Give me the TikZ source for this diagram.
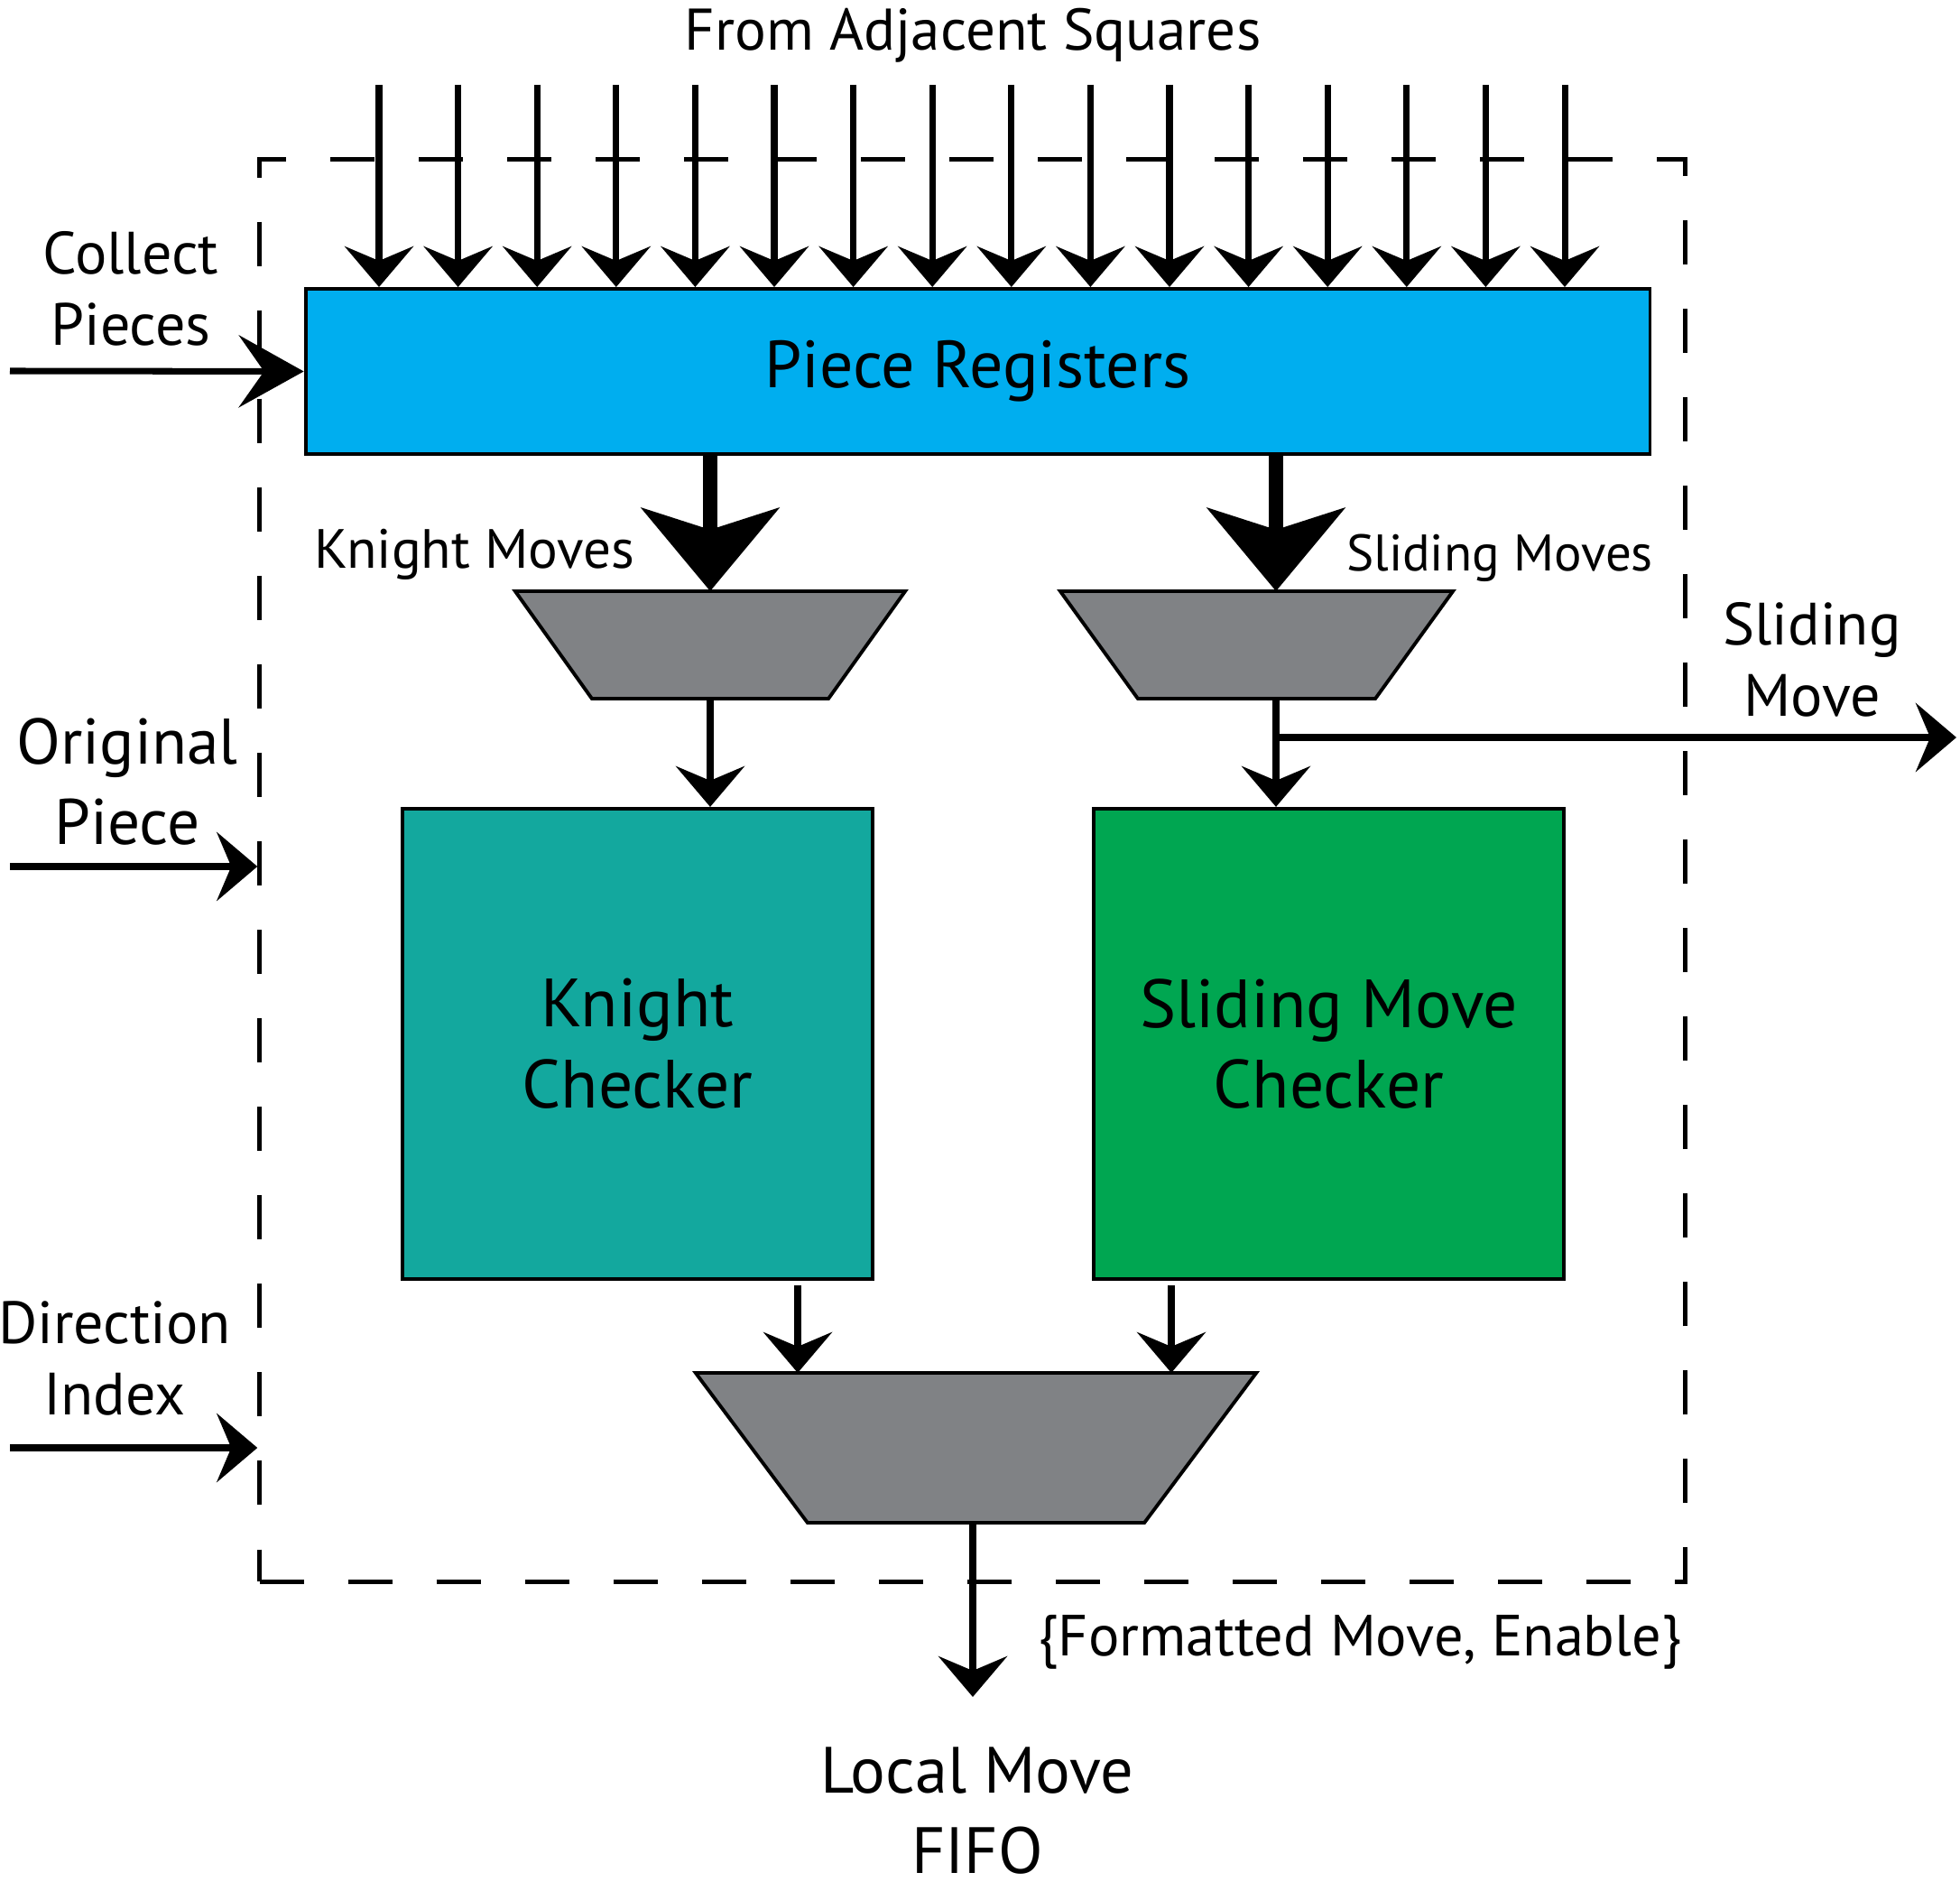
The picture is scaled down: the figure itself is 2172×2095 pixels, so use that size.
\documentclass[tikz,border=0pt]{standalone}
\usepackage{fontspec}
\setmainfont{PT Sans}
\usetikzlibrary{arrows.meta}

\definecolor{regblue}{HTML}{00AEEF}
\definecolor{knightteal}{HTML}{13A89E}
\definecolor{slidegreen}{HTML}{00A651}
\definecolor{muxgray}{HTML}{808285}

\newcommand{\textchico}{\fontsize{18.8}{22.5}\selectfont}
\newcommand{\textgrande}{\fontsize{21.5}{25.5}\selectfont}

\tikzset{
  bloque/.style={draw, line width=1.1pt, inner sep=0pt, align=center, font=\textgrande},
  marco/.style={inner sep=0pt, outer sep=0pt},
  mux/.style={draw, line width=1.1pt, fill=muxgray, line join=miter},
  flecha/.style={line width=2pt, -{Stealth[length=0.45cm, width=0.76cm, inset=0.16cm]}},
  flechalarga/.style={line width=2pt, -{Stealth[length=0.72cm, width=0.8cm, inset=0.28cm]}},
  gruesa/.style={line width=4.5pt, -{Stealth[length=0.92cm, width=1.52cm, inset=0.24cm]}},
  etiqueta/.style={align=center, inner sep=0pt, font=\textchico},
}

\begin{document}
\begin{tikzpicture}[x=0.01cm, y=-0.01cm]
  \useasboundingbox (0,0) rectangle (2172,2095);

  % Caja punteada
  \node[draw, line width=1.3pt, dash pattern=on 0.49cm off 0.49cm,
    minimum width=15.79cm, minimum height=15.75cm] (caja) at (1077.5,964.5) {};

  % Bloques
  \node[bloque, fill=regblue, minimum width=14.89cm, minimum height=1.83cm,
    font=\fontsize{21}{25}\selectfont] (regs) at (1083.5,411.5) {Piece Registers};
  \node[bloque, fill=knightteal, minimum size=5.21cm] (kchk) at (706.5,1156.5) {Knight\\Checker};
  \node[bloque, fill=slidegreen, minimum size=5.21cm] (schk) at (1472.5,1156.5) {Sliding Move\\Checker};

  % Multiplexores
  \node[marco, minimum width=4.32cm, minimum height=1.19cm] (kmux) at (787,714.5) {};
  \node[marco, minimum width=4.35cm, minimum height=1.19cm] (smux) at (1392.5,714.5) {};
  \node[marco, minimum width=6.21cm, minimum height=1.66cm] (omux) at (1081.5,1604) {};
  \draw[mux] (kmux.north west) -- (kmux.north east) -- ([xshift=-0.85cm]kmux.south east)
    -- ([xshift=0.85cm]kmux.south west) -- cycle;
  \draw[mux] (smux.north west) -- (smux.north east) -- ([xshift=-0.86cm]smux.south east)
    -- ([xshift=0.86cm]smux.south west) -- cycle;
  \draw[mux] (omux.north west) -- (omux.north east) -- ([xshift=-1.24cm]omux.south east)
    -- ([xshift=1.24cm]omux.south west) -- cycle;

  % Entradas desde casillas adyacentes
  \foreach \i in {0,...,15}{
    \coordinate (t\i) at (420+\i*87.6,94);
    \draw[flecha] (t\i) -- (t\i |- regs.north);
  }

  % Movimientos de caballo
  \draw[gruesa] (regs.south -| kmux.north) -- (kmux.north);
  \draw[flecha] (kmux.south) -- (kmux.south |- kchk.north);

  % Movimientos deslizantes
  \coordinate (sbus) at (1414,817);
  \coordinate (sout) at (2168,817);
  \draw[gruesa] (regs.south -| sbus) -- (smux.north -| sbus);
  \draw[flecha] (smux.south -| sbus) -- (schk.north -| sbus);
  \draw[flecha] (sbus) -- (sout);

  % Hacia el multiplexor de salida
  \coordinate (ka) at (884,1424);
  \coordinate (sa) at (1298,1424);
  \draw[flecha] (ka) -- (omux.north -| ka);
  \draw[flecha] (sa) -- (omux.north -| sa);

  % Salida
  \coordinate (fin) at (1078,1880);
  \draw[flecha] (omux.south -| fin) -- (fin);

  % Entradas laterales
  \coordinate (cin) at (11,411);
  \coordinate (oin) at (11,960);
  \coordinate (din) at (11,1604);
  \draw[flechalarga] (cin) -- (regs.west);
  \draw[flecha] (oin) -- (oin -| caja.west);
  \draw[flecha] (din) -- (din -| caja.west);

  % Etiquetas
  \node[etiqueta, font=\fontsize{18.5}{22.5}\selectfont] (adj) at (1078,39) {From Adjacent Squares};
  \node[etiqueta] (collect) at (145,320) {Collect\\Pieces};
  \node[etiqueta, font=\fontsize{20.3}{25.5}\selectfont] (orig) at (141,866) {Original\\Piece};
  \node[etiqueta] (dir) at (127,1505) {Direction\\Index};
  \node[etiqueta, font=\fontsize{17.4}{21}\selectfont] (kmoves) at (526,614) {Knight Moves};
  \node[etiqueta, font=\fontsize{16.2}{20}\selectfont] (smoves) at (1662,618) {Sliding Moves};
  \node[etiqueta] (smove) at (2008,731) {Sliding\\Move};
  \node[etiqueta, font=\fontsize{18.3}{22}\selectfont] (fmt) at (1507,1819) {\{Formatted Move, Enable\}};
  \node[etiqueta, font=\fontsize{20.6}{25.5}\selectfont] (fifo) at (1083,2006) {Local Move\\FIFO};
\end{tikzpicture}
\end{document}
